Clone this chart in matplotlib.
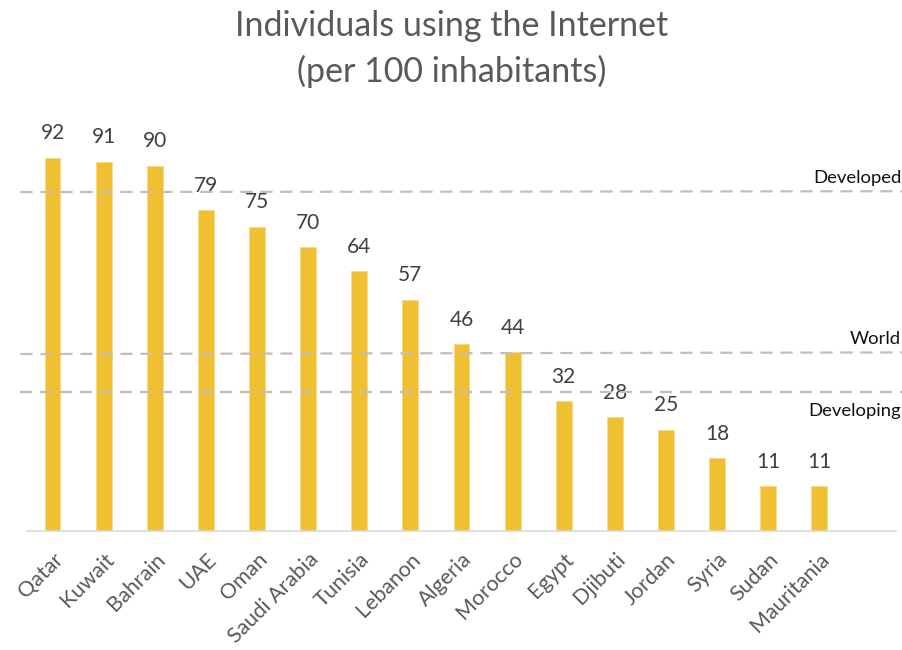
import matplotlib
matplotlib.use("Agg")
import matplotlib.pyplot as plt
import matplotlib.transforms as mtransforms

countries = ["Qatar", "Kuwait", "Bahrain", "UAE", "Oman", "Saudi Arabia", "Tunisia",
             "Lebanon", "Algeria", "Morocco", "Egypt", "Djibuti", "Jordan", "Syria",
             "Sudan", "Mauritania"]
values = [92, 91, 90, 79, 75, 70, 64, 57, 46, 44, 32, 28, 25, 18, 11, 11]

ref_names = ["Developed", "World", "Developing"]
ref_start = [83.5, 43.6, 34.2]
ref_end = [83.7, 44.0, 34.2]

plt.rcParams['font.family'] = ['Lato', 'DejaVu Sans']

fig = plt.figure(figsize=(9.03, 6.5), dpi=100)
ax = fig.add_axes([0.0299, 0.183, 0.9623, 0.6246])

x = list(range(len(countries)))
bars = ax.bar(x, values, width=0.31, color="#F0C033", edgecolor="#F5DA8A", linewidth=0.6, zorder=2)

ax.set_xlim(-0.5, len(countries) + 0.5)
ax.set_ylim(0, 100)

for xi, v in zip(x, values):
    ax.annotate(str(v), (xi, v), xytext=(0, 17.5), textcoords="offset points",
                ha="center", va="center", fontsize=15, color="#404040")

x0, x1 = ax.get_xlim()
xl0 = x0 - 0.13
for name, s, e in zip(ref_names, ref_start, ref_end):
    ax.plot([xl0, x1 + 0.2], [s, e], linestyle=(0, (5.5, 3.5)), color="#C9BDB2",
            linewidth=1.6, zorder=3, clip_on=False)

blend = mtransforms.blended_transform_factory(fig.transFigure, ax.transData)
ax.text(0.998, ref_end[0] + 1.3, ref_names[0], transform=blend,
        ha="right", va="bottom", fontsize=13.3, color="#111111")
ax.text(0.998, ref_end[1] + 1.3, ref_names[1], transform=blend,
        ha="right", va="bottom", fontsize=13.3, color="#111111")
ax.text(0.998, ref_end[2] - 2.6, ref_names[2], transform=blend,
        ha="right", va="top", fontsize=13.3, color="#111111")

for sp in ["top", "right", "left"]:
    ax.spines[sp].set_visible(False)
ax.spines["bottom"].set_color("#D9D9D9")
ax.spines["bottom"].set_linewidth(1.2)
ax.set_yticks([])
ax.set_xticks(x)
ax.set_xticklabels(countries, rotation=45, ha="right", rotation_mode="anchor",
                   fontsize=15.5, color="#595959")
ax.tick_params(axis="x", length=0, pad=13)

fig.suptitle("Individuals using the Internet\n(per 100 inhabitants)", y=0.985,
             fontsize=24.5, color="#595959", linespacing=1.5)

fig.savefig("out.png", dpi=100)
